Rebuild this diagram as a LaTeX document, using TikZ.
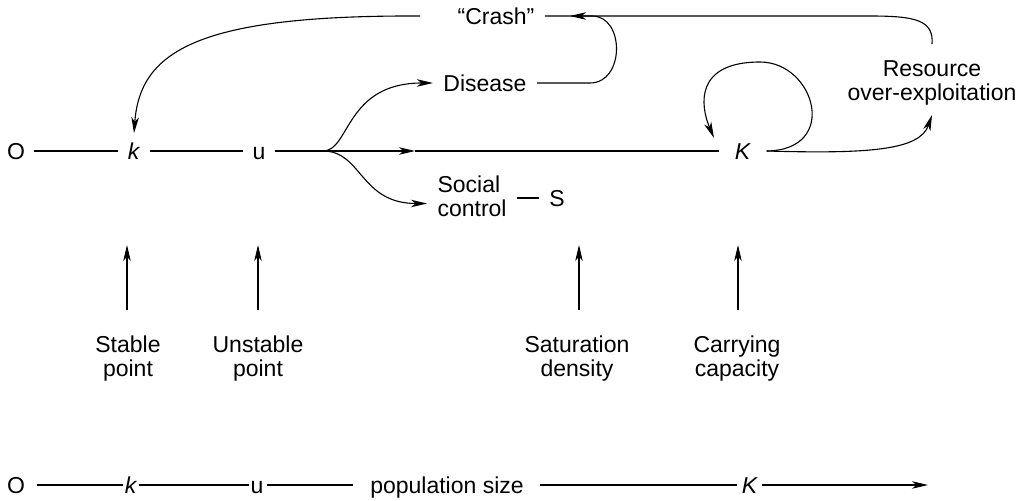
\documentclass[tikz,border=0pt]{standalone}
\usepackage{fontspec}
\setmainfont{Liberation Sans}
\usetikzlibrary{arrows.meta}
\newcommand{\fsz}{\fontsize{23}{24}\selectfont}
\begin{document}
\begin{tikzpicture}[x=1pt,y=-1pt,line width=1.1pt,
  every node/.style={font=\fsz},
  arr/.style={-{Stealth[length=16pt,width=7.5pt,inset=4.5pt]}},
  ax/.style={text height=16.5pt,text depth=0pt,inner xsep=9pt,inner ysep=9pt},
  bt/.style={text height=16.5pt,text depth=0pt,inner sep=0pt},
  lbl/.style={align=center,inner sep=0pt}]
\useasboundingbox (0,0) rectangle (1021,501);

% ---------- upper diagram ----------
\node[ax] (O) at (16,151) {O};
\node[ax] (k) at (134,151) {\textit{k}};
\node[ax] (u) at (259,151) {u};
\node[ax,inner xsep=15pt] (K) at (743,151) {\textit{K}};
\coordinate (br) at (323,151);
\coordinate (mid) at (415,151);

\draw (O) -- (k);
\draw (k) -- (u);
\draw (u) -- (br);
\draw[arr] (br) -- (mid);
\draw (mid) -- (K);

\node[ax,inner xsep=10pt] (Dis) at (485,83) {Disease};
\node[ax,inner xsep=10pt] (Cr) at (496,16) {“Crash”};
\node[align=center,inner sep=9pt] (Res) at (932,83) {Resource\\over-exploitation};
\node[align=left,anchor=west,inner xsep=10pt,inner ysep=0pt] (Soc) at (427,196.5) {Social\\control};
\node[ax,inner xsep=10pt] (S) at (557,198) {S};
\coordinate (ctip) at (570,16);
\coordinate (Kin) at (714,138);
\coordinate (top) at (760,62);

% branches from the main line
\draw[arr] (br) .. controls (350,151) and (345,83) .. (Dis.west);
\draw[arr] (br) .. controls (362,151) and (360,203.5) .. ([yshift=-7pt]Soc.west);
\draw (S.west -| Soc.east) -- (S.west);

% Disease -> Crash
\draw[arr] (Dis.east) -- (590,83) .. controls (625,83) and (625,16) .. (592,16) -- (ctip);
% Resource -> Crash
\draw ([yshift=7pt]Res.north) .. controls (934,20) and (915,16) .. (870,16) -- (Cr.east);
% Crash -> k
\draw[arr] ([xshift=-27pt]Cr.west) .. controls (200,15) and (140,50) .. (k.north);
% K -> Resource
\draw[arr] (K.east) .. controls (870,154) and (920,150) .. (Res.south);
% loop at K
\draw[arr] (K.east) .. controls (840,150) and (815,62) .. (top)
  .. controls (695,62) and (700,105) .. (Kin);

% ---------- vertical arrows and labels ----------
\foreach \n/\x in {a/127,b/258,c/579,d/738}{
  \coordinate (\n0) at (\x,310);
  \coordinate (\n1) at (\x,245);
  \draw[arr] (\n0) -- (\n1);
}
\node[lbl] (La) at (128,359) {Stable\\point};
\node[lbl] (Lb) at (258,359) {Unstable\\point};
\node[lbl] (Lc) at (577,359) {Saturation\\density};
\node[lbl] (Ld) at (737,359) {Carrying\\capacity};

% ---------- lower axis ----------
\node[bt] (O2) at (16,485) {O};
\node[bt] (k2) at (131,485) {\textit{k}};
\node[bt] (u2) at (257,485) {u};
\node[bt] (pop) at (447,485) {population size};
\node[bt] (K2) at (750,485) {\textit{K}};
\coordinate (end) at (928,485);
\draw ([xshift=12pt]O2.east) -- ([xshift=-1pt]k2.west);
\draw ([xshift=1pt]k2.east) -- ([xshift=-1pt]u2.west);
\draw ([xshift=3pt]u2.east) -- ([xshift=-17pt]pop.west);
\draw ([xshift=16pt]pop.east) -- ([xshift=-4pt]K2.west);
\draw[arr] ([xshift=3pt]K2.east) -- (end);
\end{tikzpicture}
\end{document}
